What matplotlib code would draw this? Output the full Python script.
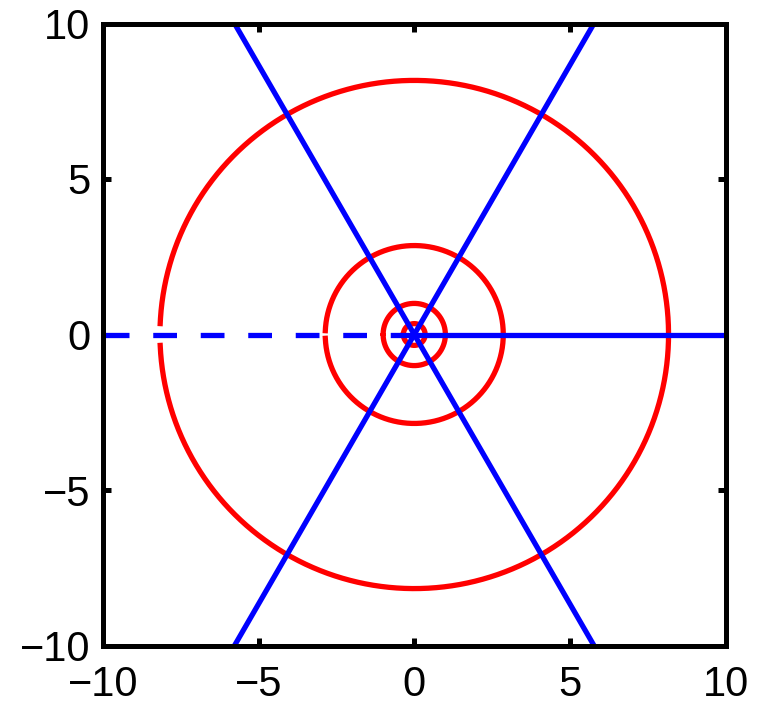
import numpy as np
import matplotlib
matplotlib.use("Agg")
import matplotlib.pyplot as plt

# радиуси на червените окръжности и ъгли (в градуси) на сините лъчи
radii = [0.35, 1.0, 2.86, 8.17]
solid_angles = [0, 60, 120, 240, 300]
dashed_angles = [180]
ticks = [-10, -5, 0, 5, 10]
tick_labels = ["\u221210", "\u22125", "0", "5", "10"]

plt.rcParams['font.family'] = ['Liberation Sans', 'DejaVu Sans']

fig = plt.figure(figsize=(7.72, 7.06), dpi=100)
ax = fig.add_axes([103 / 772, 1 - 645.5 / 706, 622.5 / 772, 622 / 706])

# окръжности с малък процеп на отрицателната ос
gap = 0.043
t = np.linspace(-np.pi + gap, np.pi - gap, 600)
for r in radii:
    ax.plot(r * np.cos(t), r * np.sin(t), color="#ff0000", lw=3.8)

# лъчи от началото
L = 20
for a in solid_angles:
    ax.plot([0, L * np.cos(np.radians(a))], [0, L * np.sin(np.radians(a))],
            color="#0000ff", lw=3.8)
for a in dashed_angles:
    ax.plot([0, -10], [0, 0], color="#0000ff", lw=3.8,
            linestyle=(0, (4.5, 4.5)))

ax.set_xlim(-10, 10)
ax.set_ylim(-10, 10)
ax.set_xticks(ticks)
ax.set_xticklabels(tick_labels)
ax.set_yticks(ticks)
ax.set_yticklabels(tick_labels)
ax.tick_params(direction="in", length=6, width=3.6, top=True, right=True,
               labelsize=30)
ax.tick_params(axis="x", pad=14)
ax.tick_params(axis="y", pad=9)
for s in ax.spines.values():
    s.set_linewidth(3.6)

fig.savefig("out.png", dpi=100)
